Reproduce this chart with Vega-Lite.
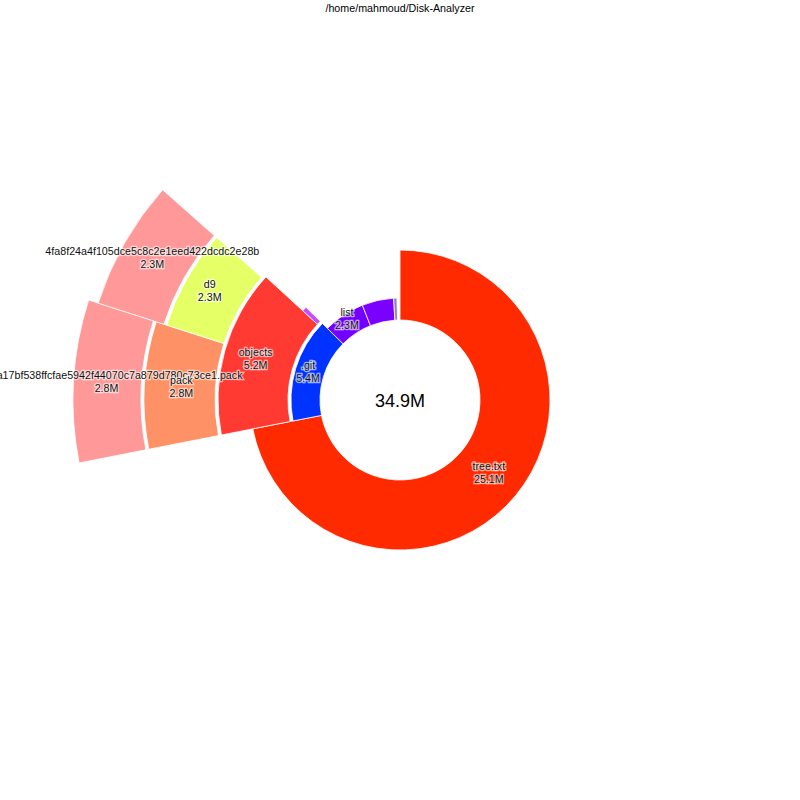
{
  "$schema": "https://vega.github.io/schema/vega-lite/v6.json",
  "width": 800,
  "height": 800,
  "autosize": {"type": "none"},
  "padding": 0,
  "background": "white",
  "title": {"text": "/home/mahmoud/Disk-Analyzer", "fontSize": 10.7, "font": "Liberation Sans", "fontWeight": "normal", "color": "#000000", "anchor": "middle", "baseline": "middle", "offset": -20},
  "config": {"view": {"stroke": null}, "text": {"font": "Liberation Sans"}},
  "data": {
    "values": [
      {"name": "/home/mahmoud/Disk-Analyzer", "ring": 0, "order": 0, "size": 34.9, "label": "34.9M"},
      {"name": "tree.txt", "ring": 1, "order": 1, "size": 25.1, "r_in": 80, "r_out": 150, "label": "tree.txt\n25.1M"},
      {"name": ".git", "ring": 1, "order": 2, "size": 5.4, "r_in": 80, "r_out": 109, "label": ".git\n5.4M"},
      {"name": "list", "ring": 1, "order": 3, "size": 2.3, "r_in": 80, "r_out": 102, "label": "list\n2.3M"},
      {"name": "other-1", "ring": 1, "order": 4, "size": 1.75, "r_in": 80, "r_out": 102, "label": ""},
      {"name": "other-2", "ring": 1, "order": 5, "size": 0.18, "r_in": 80, "r_out": 102, "label": ""},
      {"name": "", "ring": 2, "order": 1, "size": 25.1, "label": ""},
      {"name": "objects", "ring": 2, "order": 2, "size": 5.2, "r_in": 112, "r_out": 182, "label": "objects\n5.2M"},
      {"name": "other-3", "ring": 2, "order": 3, "size": 0.2, "r_in": 112, "r_out": 132, "label": ""},
      {"name": "", "ring": 3, "order": 1, "size": 25.1, "label": ""},
      {"name": "pack", "ring": 3, "order": 2, "size": 2.8, "r_in": 185, "r_out": 256, "label": "pack\n2.8M"},
      {"name": "d9", "ring": 3, "order": 3, "size": 2.3, "r_in": 185, "r_out": 245, "label": "d9\n2.3M"},
      {"name": "", "ring": 4, "order": 1, "size": 25.1, "label": ""},
      {"name": "pack-a17bf538ffcfae5942f44070c7a879d780c73ce1.pack", "ring": 4, "order": 2, "size": 2.8, "r_in": 259, "r_out": 327, "label": "pack-a17bf538ffcfae5942f44070c7a879d780c73ce1.pack\n2.8M"},
      {"name": "4fa8f24a4f105dce5c8c2e1eed422dcdc2e28b", "ring": 4, "order": 3, "size": 2.3, "r_in": 248, "r_out": 317, "label": "4fa8f24a4f105dce5c8c2e1eed422dcdc2e28b\n2.3M"}
    ]
  },
  "transform": [
    {"stack": "size", "groupby": ["ring"], "sort": [{"field": "order", "order": "ascending"}], "as": ["a0", "a1"]}
  ],
  "layer": [
    {
      "transform": [{"filter": "datum.ring > 0 && datum.name !== ''"}],
      "mark": {"type": "arc", "stroke": "white", "strokeWidth": 0.8},
      "encoding": {
        "theta": {"field": "a0", "type": "quantitative", "stack": null, "scale": {"domain": [0, 34.9], "range": [0, 6.283185307179586]}},
        "theta2": {"field": "a1"},
        "radius": {"field": "r_in", "type": "quantitative", "scale": {"type": "linear", "domain": [0, 400], "range": [0, 400]}},
        "radius2": {"field": "r_out"},
        "color": {
          "field": "name",
          "type": "nominal",
          "legend": null,
          "scale": {
            "domain": ["tree.txt", ".git", "list", "other-1", "other-2", "objects", "other-3", "pack", "d9", "pack-a17bf538ffcfae5942f44070c7a879d780c73ce1.pack", "4fa8f24a4f105dce5c8c2e1eed422dcdc2e28b"],
            "range": ["#ff2a00", "#0033ff", "#7300ff", "#7a00ff", "#8f7fc0", "#ff3a33", "#c44dff", "#ff9166", "#e5ff66", "#ff9999", "#ff9999"]
          }
        }
      }
    },
    {
      "transform": [{"filter": "datum.ring === 4"}],
      "encoding": {
        "theta": {"field": "size", "type": "quantitative", "stack": true, "scale": {"domain": [0, 34.9], "range": [0, 6.283185307179586]}},
        "order": {"field": "order", "type": "quantitative"},
        "radius": {"value": 294},
        "text": {"condition": {"test": "datum.order === 2", "field": "label"}, "value": ""}
      },
      "layer": [
        {"mark": {"type": "text", "fontSize": 10.7, "lineBreak": "\n", "lineHeight": 13, "dy": -6.5, "align": "center", "baseline": "middle", "fill": "white", "fillOpacity": 0.6, "stroke": "white", "strokeWidth": 2.5, "strokeOpacity": 0.6}},
        {"mark": {"type": "text", "fontSize": 10.7, "lineBreak": "\n", "lineHeight": 13, "dy": -6.5, "align": "center", "baseline": "middle", "fill": "#111111"}}
      ]
    },
    {
      "transform": [{"filter": "datum.ring === 4"}],
      "encoding": {
        "theta": {"field": "size", "type": "quantitative", "stack": true, "scale": {"domain": [0, 34.9], "range": [0, 6.283185307179586]}},
        "order": {"field": "order", "type": "quantitative"},
        "radius": {"value": 285},
        "text": {"condition": {"test": "datum.order === 3", "field": "label"}, "value": ""}
      },
      "layer": [
        {"mark": {"type": "text", "fontSize": 10.7, "lineBreak": "\n", "lineHeight": 13, "dy": -6.5, "align": "center", "baseline": "middle", "fill": "white", "fillOpacity": 0.6, "stroke": "white", "strokeWidth": 2.5, "strokeOpacity": 0.6}},
        {"mark": {"type": "text", "fontSize": 10.7, "lineBreak": "\n", "lineHeight": 13, "dy": -6.5, "align": "center", "baseline": "middle", "fill": "#111111"}}
      ]
    },
    {
      "transform": [{"filter": "datum.ring === 3"}],
      "encoding": {
        "theta": {"field": "size", "type": "quantitative", "stack": true, "scale": {"domain": [0, 34.9], "range": [0, 6.283185307179586]}},
        "order": {"field": "order", "type": "quantitative"},
        "radius": {"value": 219},
        "text": {"field": "label"}
      },
      "layer": [
        {"mark": {"type": "text", "fontSize": 10.7, "lineBreak": "\n", "lineHeight": 13, "dy": -6.5, "align": "center", "baseline": "middle", "fill": "white", "fillOpacity": 0.6, "stroke": "white", "strokeWidth": 2.5, "strokeOpacity": 0.6}},
        {"mark": {"type": "text", "fontSize": 10.7, "lineBreak": "\n", "lineHeight": 13, "dy": -6.5, "align": "center", "baseline": "middle", "fill": "#111111"}}
      ]
    },
    {
      "transform": [{"filter": "datum.ring === 2"}],
      "encoding": {
        "theta": {"field": "size", "type": "quantitative", "stack": true, "scale": {"domain": [0, 34.9], "range": [0, 6.283185307179586]}},
        "order": {"field": "order", "type": "quantitative"},
        "radius": {"value": 150},
        "text": {"field": "label"}
      },
      "layer": [
        {"mark": {"type": "text", "fontSize": 10.7, "lineBreak": "\n", "lineHeight": 13, "dy": -6.5, "align": "center", "baseline": "middle", "fill": "white", "fillOpacity": 0.6, "stroke": "white", "strokeWidth": 2.5, "strokeOpacity": 0.6}},
        {"mark": {"type": "text", "fontSize": 10.7, "lineBreak": "\n", "lineHeight": 13, "dy": -6.5, "align": "center", "baseline": "middle", "fill": "#111111"}}
      ]
    },
    {
      "transform": [{"filter": "datum.ring === 1"}],
      "encoding": {
        "theta": {"field": "size", "type": "quantitative", "stack": true, "scale": {"domain": [0, 34.9], "range": [0, 6.283185307179586]}},
        "order": {"field": "order", "type": "quantitative"},
        "radius": {"value": 96},
        "text": {"condition": {"test": "datum.order > 1", "field": "label"}, "value": ""}
      },
      "layer": [
        {"mark": {"type": "text", "fontSize": 10.7, "lineBreak": "\n", "lineHeight": 13, "dy": -6.5, "align": "center", "baseline": "middle", "fill": "white", "fillOpacity": 0.6, "stroke": "white", "strokeWidth": 2.5, "strokeOpacity": 0.6}},
        {"mark": {"type": "text", "fontSize": 10.7, "lineBreak": "\n", "lineHeight": 13, "dy": -6.5, "align": "center", "baseline": "middle", "fill": "#111111"}}
      ]
    },
    {
      "transform": [{"filter": "datum.ring === 1"}],
      "encoding": {
        "theta": {"field": "size", "type": "quantitative", "stack": true, "scale": {"domain": [0, 34.9], "range": [0, 6.283185307179586]}},
        "order": {"field": "order", "type": "quantitative"},
        "radius": {"value": 115},
        "text": {"condition": {"test": "datum.order === 1", "field": "label"}, "value": ""}
      },
      "layer": [
        {"mark": {"type": "text", "fontSize": 10.7, "lineBreak": "\n", "lineHeight": 13, "dy": -6.5, "align": "center", "baseline": "middle", "fill": "white", "fillOpacity": 0.6, "stroke": "white", "strokeWidth": 2.5, "strokeOpacity": 0.6}},
        {"mark": {"type": "text", "fontSize": 10.7, "lineBreak": "\n", "lineHeight": 13, "dy": -6.5, "align": "center", "baseline": "middle", "fill": "#111111"}}
      ]
    },
    {
      "transform": [{"filter": "datum.ring === 0"}],
      "mark": {"type": "text", "fontSize": 18, "dy": 1.5, "align": "center", "baseline": "middle", "fill": "#000000"},
      "encoding": {
        "text": {"field": "label"}
      }
    }
  ]
}
